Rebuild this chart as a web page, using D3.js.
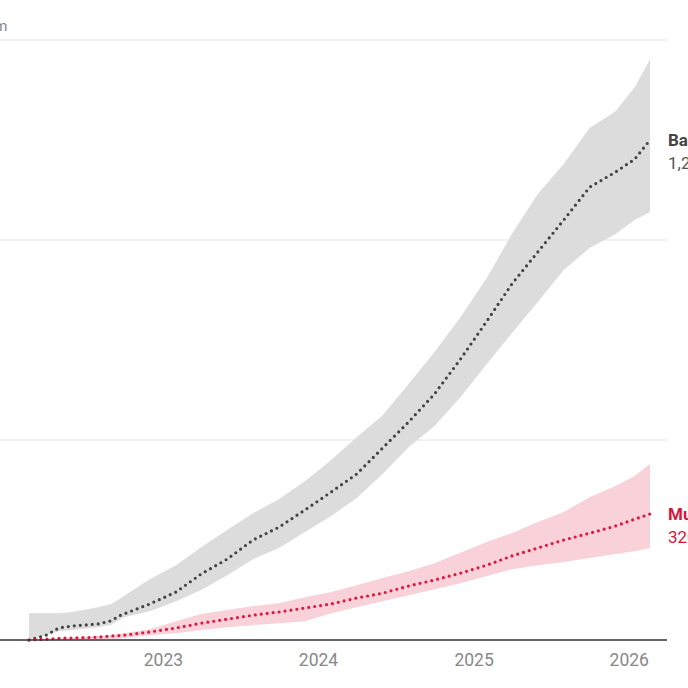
<!DOCTYPE html>
<html>
<head>
<meta charset="utf-8">
<script src="https://cdn.jsdelivr.net/npm/d3@7"></script>
<style>
  html, body { margin: 0; padding: 0; background: #fff; overflow: hidden; }
  svg { display: block; font-family: Roboto, "Noto Sans", sans-serif; }
</style>
</head>
<body>
<svg id="chart"></svg>
<script>
// dates of the readings
let dates = ["2022-02-20","2022-04-01","2022-05-01","2022-06-01","2022-08-01","2022-09-01","2022-09-20","2022-10-01",
    "2022-12-01","2023-02-01","2023-04-01","2023-06-01","2023-08-01","2023-10-01","2023-12-01","2024-02-01",
    "2024-04-01","2024-06-01","2024-08-01","2024-10-01","2024-12-01","2025-02-01","2025-04-01","2025-06-01",
    "2025-08-01","2025-10-01","2025-12-01","2026-01-15","2026-02-20"];

// values in thousands
let baseMid = [0,12,30,35,40,48,60,65,90,120,165,202,250,282,325,370,415,480,545,615,702,797,890,970,1050,1132,1170,1202,1250];
let baseHigh = [67,67,67,70,82,90,102,110,152,187,232,275,317,352,397,450,507,562,640,720,807,905,1015,1115,1190,1280,1322,1382,1452];
let baseLow = [0,12,22,25,32,38,50,57,72,97,125,162,202,230,270,310,355,415,482,535,607,690,767,845,925,980,1015,1050,1070];

let mutMid = [0,2,4,5,7,10,11,12,20,30,42,52,62,70,80,90,105,117,135,150,167,187,210,230,250,267,285,302,315];
let mutHigh = [0,3,4,5,10,12,15,17,27,47,65,75,85,92,107,120,137,155,172,192,218,245,267,295,320,357,385,410,440];
let mutLow = [0,1,1,1,2,3,4,5,12,17,25,32,37,42,47,67,82,97,112,127,142,160,177,187,195,205,215,222,230];

let yTicks = [500, 1000, 1500];
let yTopLabel = "1.5m";
let xTicks = ["2023-01-01", "2024-01-01", "2025-01-01", "2026-01-01"];
let xTickLabels = ["2023", "2024", "2025", "2026"];

let seriesLabels = [
    {name: "Baseline", value: "1,250,000", color: "#444444", valueColor: "#555555"},
    {name: "Mutation", value: "320,000", color: "#d6163c", valueColor: "#d6163c"}
];

let width = 688;
let height = 688;

let parse = d3.timeParse("%Y-%m-%d");

function makeRows(mid, low, high) {
    return dates.map((d, i) => ({date: parse(d), mid: mid[i], low: low[i], high: high[i]}));
}

let baseRows = makeRows(baseMid, baseLow, baseHigh);
let mutRows = makeRows(mutMid, mutLow, mutHigh);

let svg = d3.select("#chart")
    .attr("width", width)
    .attr("height", height);

let scaleX = d3.scaleTime()
    .domain([parse(dates[0]), parse(dates[dates.length - 1])])
    .range([29, 650]);

let scaleY = d3.scaleLinear()
    .domain([0, 1500])
    .range([640, 40]);

// сетка
let grid = svg.append("g");
grid.selectAll("line")
    .data(yTicks)
    .enter().append("line")
    .attr("x1", -10)
    .attr("x2", 667)
    .attr("y1", d => scaleY(d))
    .attr("y2", d => scaleY(d))
    .style("stroke", "#e3e3e3")
    .style("stroke-width", 1.2);

// подпись верхней линии, видна только последняя буква
grid.append("text")
    .attr("x", -26.5)
    .attr("y", scaleY(1500) - 9)
    .style("font-size", "15px")
    .style("fill", "#8a8a8a")
    .text(yTopLabel);

let area = d3.area()
    .x(d => scaleX(d.date))
    .y0(d => scaleY(d.low))
    .y1(d => scaleY(d.high));

let line = d3.line()
    .x(d => scaleX(d.date))
    .y(d => scaleY(d.mid));

svg.append("path")
    .datum(baseRows)
    .attr("d", area)
    .style("fill", "#dcdcdc");

svg.append("path")
    .datum(mutRows)
    .attr("d", area)
    .style("fill", "#f8d1d9");

svg.append("path")
    .datum(baseRows)
    .attr("d", line)
    .style("fill", "none")
    .style("stroke", "#444")
    .style("stroke-width", 3.2)
    .style("stroke-linecap", "round")
    .style("stroke-dasharray", "0,6");

svg.append("path")
    .datum(mutRows)
    .attr("d", line)
    .style("fill", "none")
    .style("stroke", "#e0193f")
    .style("stroke-width", 3.2)
    .style("stroke-linecap", "round")
    .style("stroke-dasharray", "0,6");

// ось X
let axisX = d3.axisBottom(scaleX)
    .tickValues(xTicks.map(parse))
    .tickSize(0)
    .tickPadding(14)
    .tickFormat((d, i) => xTickLabels[i]);

let gx = svg.append("g")
    .attr("transform", `translate(0, ${scaleY(0)})`)
    .call(axisX);
gx.select(".domain").remove();
gx.selectAll("text")
    .style("font-size", "17.5px")
    .style("font-family", "Roboto, sans-serif")
    .style("fill", "#888");

svg.append("line")
    .attr("x1", -10)
    .attr("x2", 667)
    .attr("y1", scaleY(0))
    .attr("y2", scaleY(0))
    .style("stroke", "#333")
    .style("stroke-width", 1.6);

// подписи серий
let ends = [baseRows[baseRows.length - 1], mutRows[mutRows.length - 1]];
seriesLabels.forEach((s, i) => {
    let y = scaleY(ends[i].mid);
    svg.append("text")
        .attr("x", 668)
        .attr("y", y + 6)
        .style("font-size", "17px")
        .style("font-weight", "bold")
        .style("fill", s.color)
        .text(s.name);
    svg.append("text")
        .attr("x", 668)
        .attr("y", y + 29)
        .style("font-size", "17px")
        .style("fill", s.valueColor)
        .text(s.value);
});
</script>
</body>
</html>
